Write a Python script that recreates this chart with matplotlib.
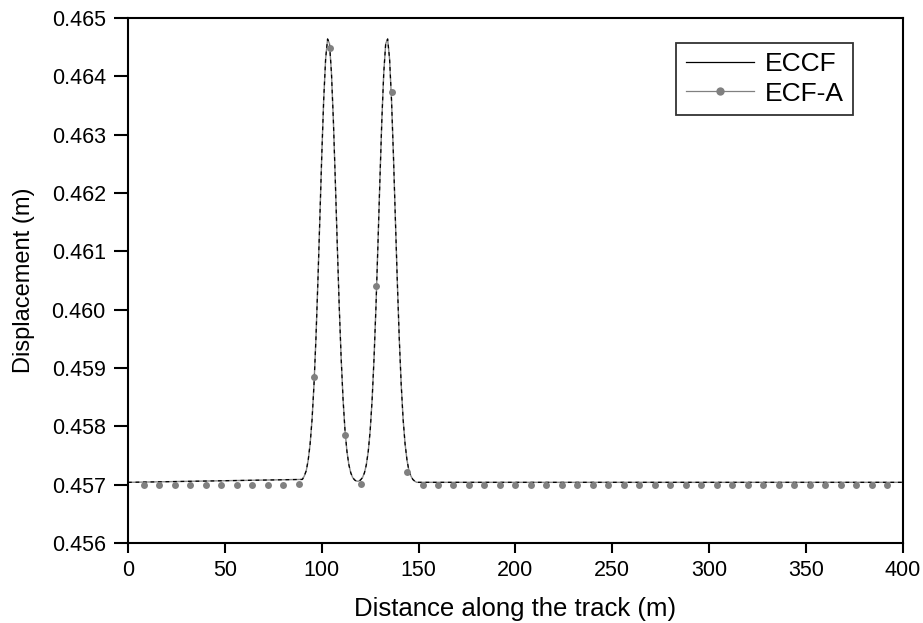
import numpy as np
import matplotlib
matplotlib.use("Agg")
import matplotlib.pyplot as plt
from matplotlib.lines import Line2D

plt.rcParams['font.family'] = ['Liberation Sans', 'DejaVu Sans']

# ECCF curve (m), baseline outside the two peaks
eccf_x = [0, 90, 91, 92, 93, 94, 95, 96, 97, 98, 99, 100, 101, 102, 103, 104, 105,
          106, 107, 108, 109, 110, 111, 112, 113, 114, 115, 116, 117, 118, 119, 120,
          121, 122, 123, 124, 125, 126, 127, 128, 129, 130, 131, 132, 133, 134, 135,
          136, 137, 138, 139, 140, 141, 142, 143, 144, 145, 146, 147, 148, 149, 400]
eccf_y = [0.45704, 0.45709, 0.45715, 0.45724, 0.45742, 0.45770, 0.45812, 0.45872,
          0.45951, 0.46048, 0.46155, 0.46264, 0.46360, 0.46430, 0.46464, 0.46456,
          0.46406, 0.46324, 0.46221, 0.46112, 0.46007, 0.45918, 0.45846, 0.45793,
          0.45757, 0.45734, 0.45720, 0.45712, 0.45708, 0.45706, 0.45706, 0.45708,
          0.45712, 0.45720, 0.45734, 0.45757, 0.45793, 0.45846, 0.45918, 0.46007,
          0.46112, 0.46221, 0.46324, 0.46406, 0.46456, 0.46464, 0.46430, 0.46360,
          0.46264, 0.46155, 0.46048, 0.45951, 0.45872, 0.45812, 0.45770, 0.45742,
          0.45724, 0.45715, 0.45709, 0.45706, 0.45704, 0.45704]

# ECF-A sample points (every 8 m)
ecfa_x = list(range(8, 400, 8))
ecfa_y = [0.45700] * len(ecfa_x)
peak_pts = {88: 0.45702, 96: 0.45885, 104: 0.46449, 112: 0.45785, 120: 0.45702,
            128: 0.46041, 136: 0.46374, 144: 0.45721}
for k, v in peak_pts.items():
    ecfa_y[ecfa_x.index(k)] = v

fig = plt.figure(figsize=(9.23, 6.23), dpi=100)
ax = fig.add_axes([0.1387, 0.1284, 0.8396, 0.8427])

ax.plot(eccf_x, eccf_y, color='#888888', lw=1.0, zorder=2)
ax.plot(eccf_x, eccf_y, color='black', lw=0.9, dashes=(3, 3), zorder=3)
ax.plot(ecfa_x, ecfa_y, 'o', color='#808080', ms=5, mec='none', zorder=4)

ax.set_xlim(0, 400)
ax.set_ylim(0.456, 0.465)
ax.set_xticks(np.arange(0, 401, 50))
ax.set_yticks(np.arange(0.456, 0.4651, 0.001))
ax.yaxis.set_major_formatter(plt.FormatStrFormatter('%.3f'))

for sp in ax.spines.values():
    sp.set_linewidth(1.5)
ax.tick_params(direction='out', width=1.5, labelsize=15.5)
ax.tick_params(axis='x', length=7, pad=5)
ax.tick_params(axis='y', length=10, pad=6)

ax.set_xlabel('Distance along the track (m)', fontsize=18.5, labelpad=12)
ax.set_ylabel('Displacement (m)', fontsize=17, labelpad=12)

handles = [Line2D([], [], color='black', lw=0.9),
           Line2D([], [], color='#808080', lw=0.9, marker='o', ms=6, mec='none')]
leg = ax.legend(handles, ['ECCF', 'ECF-A'], loc='upper right',
                bbox_to_anchor=(0.9355, 0.952), fontsize=19, frameon=True,
                fancybox=False, handlelength=2.6, handletextpad=0.4,
                borderpad=0.35, labelspacing=0.2, borderaxespad=0)
leg.get_frame().set_edgecolor('black')
leg.get_frame().set_linewidth(1.3)

fig.savefig('out.png', dpi=100)
